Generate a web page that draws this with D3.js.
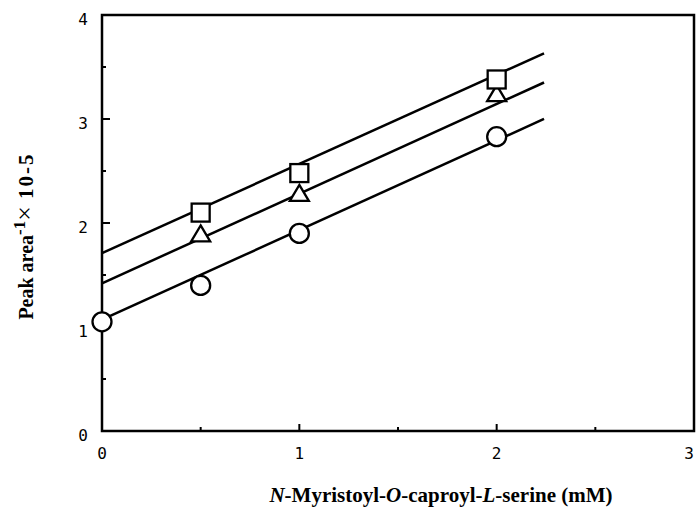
<!DOCTYPE html>
<meta charset="utf-8">
<body style="margin:0;background:#fff">
<svg width="697" height="520"></svg>
<script src="https://d3js.org/d3.v7.min.js"></script>
<script>
  // concentrations (mM) and measured 1/peak area (x 10^-5)
  var squareX = [0.5, 1, 2]
  var squareY = [2.1, 2.48, 3.38]
  var triangleX = [0.5, 1, 2]
  var triangleY = [1.89, 2.28, 3.24]
  var circleX = [0, 0.5, 1, 2]
  var circleY = [1.05, 1.4, 1.9, 2.83]

  // fitted lines: intercept, slope, last x
  var fitIntercept = [1.71, 1.42, 1.07]
  var fitSlope = [0.858, 0.862, 0.862]
  var fitEnd = 2.24

  var xTicks = [0, 1, 2, 3]
  var yTicks = [0, 1, 2, 3, 4]

  var svg = d3.select('svg')
  var mLeft = 102, mRight = 694, mTop = 15, mBottom = 431

  var x = d3.scaleLinear().domain([0, 3]).range([mLeft, mRight])
  var y = d3.scaleLinear().domain([0, 4]).range([mBottom, mTop])

  // inward ticks
  var ticks = svg.append('g').attr('stroke', '#000').attr('stroke-width', 2)
  d3.range(0.5, 3, 0.5).forEach(function(v) {
    var len = v % 1 === 0 ? 7 : 4
    ticks.append('line').attr('x1', x(v)).attr('x2', x(v)).attr('y1', mBottom).attr('y2', mBottom - len)
  })
  d3.range(0.5, 4, 0.5).forEach(function(v) {
    var len = v % 1 === 0 ? 8 : 4
    ticks.append('line').attr('x1', mLeft).attr('x2', mLeft + len).attr('y1', y(v)).attr('y2', y(v))
  })

  // frame
  svg.append('rect')
    .attr('x', mLeft).attr('y', mTop)
    .attr('width', mRight - mLeft).attr('height', mBottom - mTop)
    .attr('fill', 'none').attr('stroke', '#000').attr('stroke-width', 2.5)

  // tick labels
  svg.append('g').selectAll('text').data(xTicks).enter().append('text')
    .attr('x', function(d) { return Math.min(x(d), 689) })
    .attr('y', mBottom + 28)
    .attr('text-anchor', 'middle')
    .attr('font-family', 'DejaVu Sans Mono')
    .attr('font-size', 16)
    .text(function(d) { return d })

  svg.append('g').selectAll('text').data(yTicks).enter().append('text')
    .attr('x', mLeft - 14)
    .attr('y', function(d) { return y(d) + 10 })
    .attr('text-anchor', 'end')
    .attr('font-family', 'DejaVu Sans Mono')
    .attr('font-size', 16)
    .text(function(d) { return d })

  // fit lines
  svg.append('g').selectAll('line').data(fitIntercept).enter().append('line')
    .attr('x1', x(0))
    .attr('y1', function(d) { return y(d) })
    .attr('x2', x(fitEnd))
    .attr('y2', function(d, i) { return y(d + fitSlope[i] * fitEnd) })
    .attr('stroke', '#000')
    .attr('stroke-width', 2.5)

  var marks = svg.append('g').attr('fill', '#fff').attr('stroke', '#000').attr('stroke-width', 2.3)

  marks.selectAll('circle').data(circleX).enter().append('circle')
    .attr('cx', function(d) { return x(d) })
    .attr('cy', function(d, i) { return y(circleY[i]) })
    .attr('r', 9.5)

  marks.selectAll('path.tri').data(triangleX).enter().append('path')
    .attr('class', 'tri')
    .attr('d', function(d, i) {
      var cx = x(d), cy = y(triangleY[i])
      return 'M' + cx + ',' + (cy - 9) + 'L' + (cx + 9.5) + ',' + (cy + 7) + 'L' + (cx - 9.5) + ',' + (cy + 7) + 'Z'
    })

  marks.selectAll('rect').data(squareX).enter().append('rect')
    .attr('x', function(d) { return x(d) - 9 })
    .attr('y', function(d, i) { return y(squareY[i]) - 9 })
    .attr('width', 18)
    .attr('height', 18)

  // axis titles
  var xt = svg.append('text')
    .attr('x', 441).attr('y', 502)
    .attr('text-anchor', 'middle')
    .attr('font-family', 'Liberation Serif')
    .attr('font-weight', 'bold')
    .attr('font-size', 21)
  xt.append('tspan').attr('font-style', 'italic').text('N')
  xt.append('tspan').text('-Myristoyl-')
  xt.append('tspan').attr('font-style', 'italic').text('O')
  xt.append('tspan').text('-caproyl-')
  xt.append('tspan').attr('font-style', 'italic').text('L')
  xt.append('tspan').text('-serine (mM)')

  var yt = svg.append('text')
    .attr('transform', 'translate(33,236) rotate(-90)')
    .attr('text-anchor', 'middle')
    .attr('font-family', 'Liberation Serif')
    .attr('font-weight', 'bold')
    .attr('font-size', 20)
  yt.append('tspan').text('Peak area')
  yt.append('tspan').attr('dy', -8).attr('font-size', 17).text('-1')
  yt.append('tspan').attr('dy', 8).attr('font-weight', 'normal').attr('font-size', 26).text('\u00d7')
  yt.append('tspan').attr('letter-spacing', 2).attr('font-size', 21).text(' 10-5')
</script>
